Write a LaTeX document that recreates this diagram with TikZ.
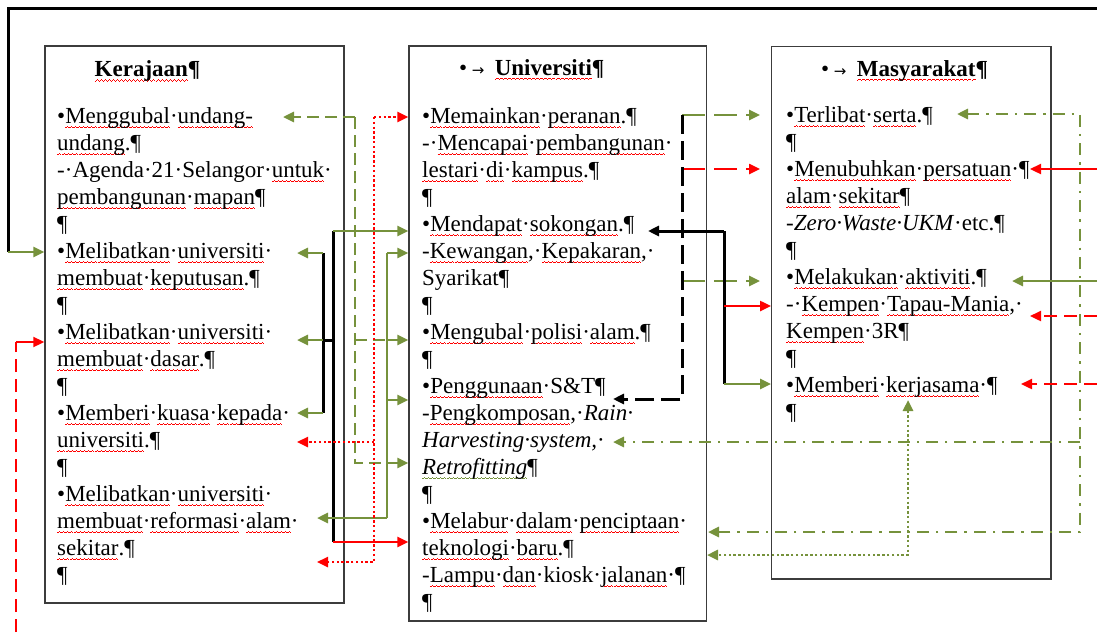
\documentclass[tikz,border=0pt]{standalone}
\usepackage{fontspec}
\setmainfont{Liberation Serif}
\newfontfamily\dejavu{DejaVu Sans}
\usetikzlibrary{arrows.meta}
\definecolor{og}{RGB}{118,146,60}
\definecolor{rd}{RGB}{255,0,0}
\definecolor{bx}{RGB}{60,60,60}
\newsavebox\sqbox
\newcommand\wavy{\hbox{\rule[-5pt]{1pt}{0.9pt}\rule[-4.2pt]{1pt}{0.9pt}\rule[-3.4pt]{1pt}{0.9pt}\rule[-4.2pt]{1pt}{0.9pt}}}
\newcommand\sqw[1]{\sbox\sqbox{#1}\rlap{\textcolor{rd}{\hbox to \wd\sqbox{\xleaders\wavy\hfill}}}\usebox\sqbox}
\newcommand\sqg[1]{\sbox\sqbox{#1}\rlap{\textcolor{og}{\hbox to \wd\sqbox{\xleaders\wavy\hfill}}}\usebox\sqbox}
\newcommand\tabarr{{\dejavu\fontsize{15}{15}\selectfont →}}
\begin{document}
\begin{tikzpicture}[x=1pt,y=-1pt,
  box/.style={draw=bx,line width=1.4pt,inner sep=0pt},
  txt/.style={anchor=north west,inner sep=0pt,align=left,font=\fontsize{23}{27}\selectfont},
  ttl/.style={anchor=base west,inner sep=0pt,font=\fontsize{23}{27}\selectfont},
  gl/.style={draw=og,line width=2.6pt},
  rl/.style={draw=rd,line width=2.4pt},
  bl/.style={draw=black,line width=3pt},
  tip/.style={-{Triangle[length=11pt,width=10pt]}},
  tips/.style={{Triangle[length=11pt,width=10pt]}-{Triangle[length=11pt,width=10pt]}},
  gdash/.style={dash pattern=on 12pt off 6pt},
  cdash/.style={dash pattern=on 23pt off 9pt},
  bdash/.style={dash pattern=on 19pt off 7pt},
  rdash/.style={dash pattern=on 13pt off 7pt},
  dotp/.style={dash pattern=on 2.4pt off 2.4pt},
  ddot/.style={dash pattern=on 12pt off 7pt on 2.4pt off 7pt}
]
\useasboundingbox (0,0) rectangle (1097,632);

% boxes
\node[box,minimum width=299pt,minimum height=557pt] (ker) at (194.5,324.5) {};
\node[box,minimum width=297.7pt,minimum height=575pt] (uni) at (557.85,333.5) {};
\node[box,minimum width=279.3pt,minimum height=532.3pt] (mas) at (911.35,312.85) {};

% titles
\node[ttl] (kertitle) at (94.5,76.5) {\textbf{\sqw{Kerajaan}¶}};
\node[ttl] (unititle) at (459,75) {•\hspace{4.5pt}\tabarr\hspace{10.5pt}\textbf{\sqw{Universiti}¶}};
\node[ttl] (mastitle) at (821,76) {•\hspace{4.5pt}\tabarr\hspace{10.5pt}\textbf{\sqw{Masyarakat}¶}};

% texts
\node[txt] (kertext) at (57,104) {\rule{0pt}{19pt}•\sqw{Menggubal}·\sqw{undang-}\\
\sqw{undang}.¶\\
-·Agenda·21·Selangor·\sqw{untuk}·\\
\sqw{pembangunan}·\sqw{mapan}¶\\
¶\\
•\sqw{Melibatkan}·\sqw{universiti}·\\
\sqw{membuat}·\sqw{keputusan}.¶\\
¶\\
•\sqw{Melibatkan}·\sqw{universiti}·\\
\sqw{membuat}·\sqw{dasar}.¶\\
¶\\
•\sqw{Memberi}·\sqw{kuasa}·\sqw{kepada}·\\
\sqw{universiti}.¶\\
¶\\
•\sqw{Melibatkan}·\sqw{universiti}·\\
\sqw{membuat}·\sqw{reformasi}·\sqw{alam}·\\
\sqw{sekitar}.¶\\
¶};

\node[txt] (unitext) at (422,104) {\rule{0pt}{19pt}•\sqw{Memainkan}·\sqw{peranan}.¶\\
-·\sqw{Mencapai}·\sqw{pembangunan}·\\
\sqw{lestari}·\sqw{di}·\sqw{kampus}.¶\\
¶\\
•\sqw{Mendapat}·\sqw{sokongan}.¶\\
-\sqw{Kewangan},·\sqw{Kepakaran},·\\
Syarikat¶\\
¶\\
•\sqw{Mengubal}·\sqw{polisi}·\sqw{alam}.¶\\
¶\\
•\sqw{Penggunaan}·S\&T¶\\
-\sqw{Pengkomposan},·\textit{Rain·}\\
\textit{Harvesting·system,}·\\
\textit{\sqg{Retrofitting}}¶\\
¶\\
•\sqw{Melabur}·\sqw{dalam}·\sqw{penciptaan}·\\
\sqw{teknologi}·\sqw{baru}.¶\\
-\sqw{Lampu}·\sqw{dan}·kiosk·\sqw{jalanan}·¶\\
¶};

\node[txt] (mastext) at (786,103) {\rule{0pt}{19pt}•\sqw{Terlibat}·\sqw{serta}.¶\\
¶\\
•\sqw{Menubuhkan}·\sqw{persatuan}·¶\\
\sqw{alam}·\sqw{sekitar}¶\\
-\textit{Zero·Waste·UKM}·etc.¶\\
¶\\
•\sqw{Melakukan}·\sqw{aktiviti}.¶\\
-·\sqw{Kempen}·\sqw{Tapau-Mania},·\\
\sqw{Kempen}·3R¶\\
¶\\
•\sqw{Memberi}·\sqw{kerjasama}·¶\\
¶};

% ---- coordinates
\coordinate (tr) at (1097,8);
\coordinate (tl) at (8,8);
\coordinate (lk) at (8,252);
\coordinate (k1) at (283,117);
\coordinate (gdT) at (355,117);
\coordinate (gdM) at (355,340);
\coordinate (gdB) at (355,463);
\coordinate (gsT) at (387,253);
\coordinate (gsM) at (387,340);
\coordinate (gsL) at (387,400);
\coordinate (gsN) at (387,463);
\coordinate (gsB) at (387,518);
\coordinate (kref) at (317,518);
\coordinate (bsT) at (333,231);
\coordinate (bsM) at (333,340);
\coordinate (bsB) at (333,542);
\coordinate (bbT) at (323,253);
\coordinate (bbM) at (323,340);
\coordinate (bbB) at (323,413);
\coordinate (kdec) at (297,253);
\coordinate (kdas) at (297,340);
\coordinate (kkua) at (297,413);
\coordinate (rdT) at (374,117);
\coordinate (rdM) at (374,442);
\coordinate (rdB) at (374,562);
\coordinate (kuni) at (297,442);
\coordinate (ksek) at (317,562);
\coordinate (kdT) at (682,115);
\coordinate (kdR) at (682,169);
\coordinate (kdG) at (682,281);
\coordinate (kdB) at (682,399);
\coordinate (ust) at (613,399);
\coordinate (mter) at (760,115);
\coordinate (mmen) at (760,169);
\coordinate (mmel) at (760,281);
\coordinate (sbT) at (724,231);
\coordinate (sbM) at (724,306);
\coordinate (sbB) at (724,384);
\coordinate (usok) at (648,231);
\coordinate (ddT) at (1080,114);
\coordinate (ddM) at (1080,442);
\coordinate (ddB) at (1080,532);
\coordinate (mters) at (957,114);
\coordinate (uhar) at (613,442);
\coordinate (umel) at (708,532);
\coordinate (rA) at (1097,169);
\coordinate (rAt) at (1030,169);
\coordinate (rB) at (1097,281);
\coordinate (rBt) at (1012,281);
\coordinate (rC) at (1097,316);
\coordinate (rCt) at (1030,316);
\coordinate (rD) at (1097,384);
\coordinate (rDt) at (1021,384);
\coordinate (mker) at (908,400);
\coordinate (gdc) at (908,555);
\coordinate (uter) at (707,555);
\coordinate (lrB) at (16,632);
\coordinate (lrT) at (16,342);

% ---- connectors
% top black loop
\draw[bl] (tr) -- (tl) -- (lk);
\draw[gl,tip] (lk) -- (lk -| ker.west);

% black spine left
\draw[bl] (bsT) -- (bsB);
\draw[bl] (bsM) -- (bbM);
\draw[bl] (bbT) -- (bbB);
\draw[gl,tip] (bsT) -- (bsT -| uni.west);
\draw[rl,tip] (bsB) -- (bsB -| uni.west);
\draw[gl,tip] (bbT) -- (kdec);
\draw[gl,tip] (bbM) -- (kdas);
\draw[gl,tip] (bbB) -- (kkua);

% green dashed
\draw[gl,gdash,tip] (gdT) -- (k1);
\draw[gl,gdash] (gdT) -- (gdB) -- (gsN);
\draw[gl,gdash] (gdM) -- (gsM);

% green solid spine
\draw[gl] (gsT) -- (gsB);
\draw[gl,tip] (gsT) -- (gsT -| uni.west);
\draw[gl,tip] (gsM) -- (gsM -| uni.west);
\draw[gl,tip] (gsL) -- (gsL -| uni.west);
\draw[gl,tip] (gsN) -- (gsN -| uni.west);
\draw[gl,tip] (gsB) -- (kref);

% red dotted
\draw[rl,dotp,tip] (rdT) -- (rdT -| uni.west);
\draw[rl,dotp,tip] (rdT) -- (rdB) -- (ksek);
\draw[rl,dotp,tip] (rdM) -- (kuni);

% black dashed (universiti right)
\draw[gl,cdash,tip] (kdT) -- (mter);
\draw[rl,cdash,tip] (kdR) -- (mmen);
\draw[gl,cdash,tip] (kdG) -- (mmel);
\draw[bl,bdash,tip] (kdT) -- (kdB) -- (ust);

% black solid to masyarakat
\draw[bl,tip] (sbT) -- (usok);
\draw[bl] (sbT) -- (sbB);
\draw[rl,tip] (sbM) -- (sbM -| mas.west);
\draw[gl,tip] (sbB) -- (sbB -| mas.west);

% green dash-dot on the right
\draw[gl,ddot,tips] (mters) -- (ddT) -- (ddB) -- (umel);
\draw[gl,ddot,tip] (ddM) -- (uhar);

% arrows from the right edge
\draw[rl,tip] (rA) -- (rAt);
\draw[gl,tip] (rB) -- (rBt);
\draw[rl,rdash,tip] (rC) -- (rCt);
\draw[rl,rdash,tip] (rD) -- (rDt);

% green dotted
\draw[gl,dotp,tips] (mker) -- (gdc) -- (uter);

% red on left edge
\draw[rl,rdash] (lrB) -- (lrT);
\draw[rl,line width=2pt,tip] (lrT) -- (lrT -| ker.west);
\end{tikzpicture}
\end{document}
